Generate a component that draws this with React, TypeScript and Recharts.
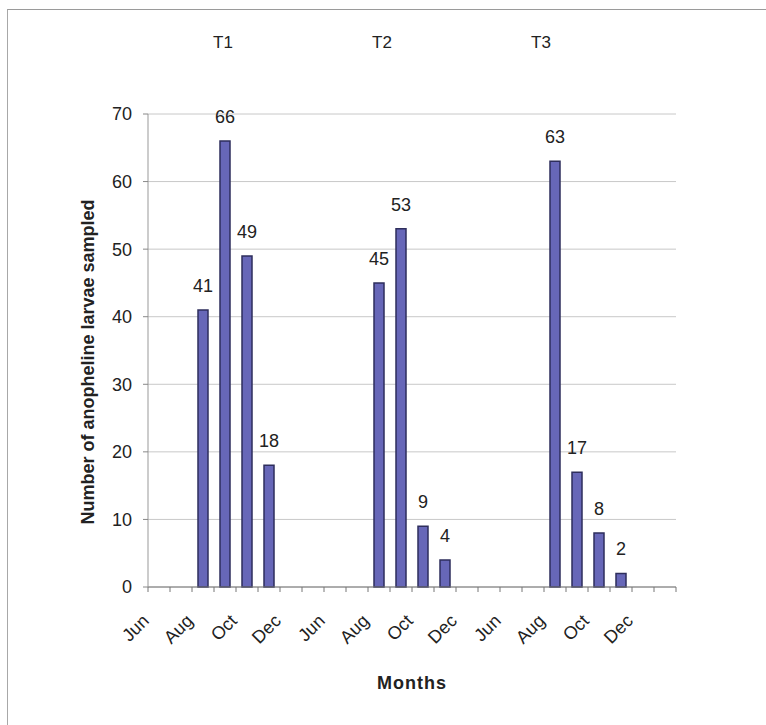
import React from "react";
import { BarChart, Bar, XAxis, YAxis, CartesianGrid, LabelList, Label } from "recharts";

const MONTHS = ["Jun", "Jul", "Aug", "Sep", "Oct", "Nov", "Dec", "Jan"];
const SITES = ["T1", "T2", "T3"];
const T1_VALUES = [null, null, 41, 66, 49, 18, null, null];
const T2_VALUES = [null, null, 45, 53, 9, 4, null, null];
const T3_VALUES = [null, null, 63, 17, 8, 2, null, null];
const Y_TICKS = [0, 10, 20, 30, 40, 50, 60, 70];
const SITE_LABEL_X = [223, 382, 541];

const SERIES = [T1_VALUES, T2_VALUES, T3_VALUES];
const data = SITES.flatMap((s, si) =>
  MONTHS.map((m, mi) => ({ key: `${s}-${m}`, month: m, larvae: SERIES[si][mi] }))
);

const W = 766;
const H = 725;
const MARGIN = { top: 114, right: 90, bottom: 38, left: 0 };
const Y_AXIS_W = 148;
const X_AXIS_H = 100;
const BAND = (W - MARGIN.left - MARGIN.right - Y_AXIS_W) / data.length;

const FONT = "Arial, 'Liberation Sans', sans-serif";
const TEXT = "#222";

const MonthTick = (props: any) => {
  const { x, y, index } = props;
  const half = BAND / 2;
  const label = data[index] ? data[index].month : "";
  const tx = x - 9;
  const ty = y + 35;
  return (
    <g>
      <line x1={x - half} x2={x - half} y1={y} y2={y + 5} stroke="#777" />
      {index === data.length - 1 && (
        <line x1={x + half} x2={x + half} y1={y} y2={y + 5} stroke="#777" />
      )}
      {index % 2 === 0 && (
        <text
          x={tx}
          y={ty}
          transform={`rotate(-45 ${tx} ${ty})`}
          textAnchor="end"
          fontSize={18}
          fontFamily={FONT}
          fill={TEXT}
        >
          {label}
        </text>
      )}
    </g>
  );
};

const ValueLabel = (props: any) => {
  const { x, y, width, value } = props;
  if (value === null || value === undefined) return null;
  return (
    <text
      x={x + width / 2}
      y={y - 18}
      textAnchor="middle"
      fontSize={18}
      fontFamily={FONT}
      fill={TEXT}
    >
      {value}
    </text>
  );
};

export default function App() {
  return (
    <div style={{ position: "absolute", left: 0, top: 0, width: W, height: H, background: "#fff" }}>
      <div
        style={{
          position: "absolute",
          left: 7,
          top: 9,
          width: W - 7,
          height: H - 9,
          borderTop: "1px solid #9a9a9a",
          borderLeft: "1px solid #a8a8a8",
        }}
      />
      <BarChart width={W} height={H} data={data} margin={MARGIN} barSize={10}>
        <CartesianGrid vertical={false} stroke="#c8c8c8" />
        <XAxis
          dataKey="key"
          interval={0}
          height={X_AXIS_H}
          tick={<MonthTick />}
          tickLine={false}
          tickSize={0}
          tickMargin={0}
          axisLine={{ stroke: "#777" }}
        >
          <Label
            content={(p: any) => (
              <text
                x={p.viewBox.x + p.viewBox.width / 2}
                y={683}
                textAnchor="middle"
                dominantBaseline="central"
                fontSize={18}
                fontWeight="bold"
                letterSpacing={1}
                fontFamily={FONT}
                fill={TEXT}
              >
                Months
              </text>
            )}
          />
        </XAxis>
        <YAxis
          width={Y_AXIS_W}
          domain={[0, 70]}
          ticks={Y_TICKS}
          interval={0}
          tickSize={5}
          tickMargin={11}
          tickLine={{ stroke: "#888" }}
          axisLine={{ stroke: "#999" }}
          tick={{ fontSize: 18, fontFamily: FONT, fill: TEXT }}
        >
          <Label
            content={() => (
              <text
                x={88}
                y={362}
                transform="rotate(-90 88 362)"
                textAnchor="middle"
                dominantBaseline="central"
                fontSize={18}
                fontWeight="bold"
                fontFamily={FONT}
                fill={TEXT}
              >
                Number of anopheline larvae sampled
              </text>
            )}
          />
        </YAxis>
        <Bar dataKey="larvae" fill="#6767b8" stroke="#2e2e5c" strokeWidth={1.5} isAnimationActive={false}>
          <LabelList dataKey="larvae" content={<ValueLabel />} />
        </Bar>
      </BarChart>
      {SITES.map((s, i) => (
        <div
          key={s}
          style={{
            position: "absolute",
            left: SITE_LABEL_X[i] - 20,
            width: 40,
            top: 33,
            textAlign: "center",
            fontSize: 17,
            fontFamily: FONT,
            color: TEXT,
            lineHeight: "20px",
          }}
        >
          {s}
        </div>
      ))}
    </div>
  );
}
